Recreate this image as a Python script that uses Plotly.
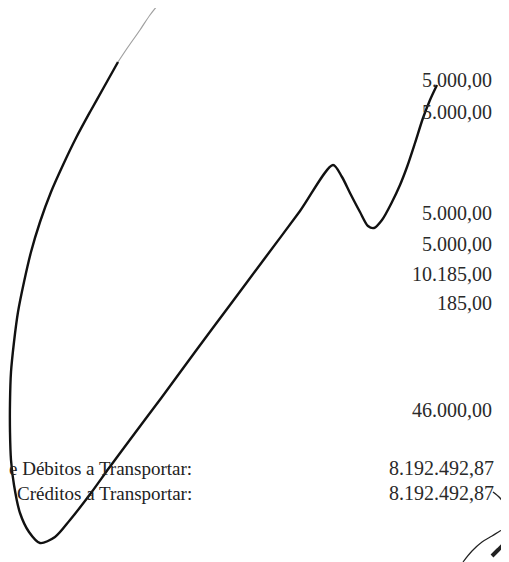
import plotly.graph_objects as go

# Values column (right aligned) and their vertical positions on the page
amounts = ["5.000,00", "5.000,00", "5.000,00", "5.000,00", "10.185,00", "185,00", "46.000,00"]
amount_rows = [80, 112, 213, 244, 274, 303, 410]

# Totals lines
total_labels = ["e Débitos a Transportar:", "Créditos a Transportar:"]
total_values = ["8.192.492,87", "8.192.492,87"]
total_rows = [468, 493]

# Signature stroke (page pixel coordinates)
sig_faint_x = [162, 150, 140, 128, 118]
sig_faint_y = [0, 15, 30, 47, 62]
sig_x = [118, 104, 90, 76, 63, 51, 40, 31, 24, 18, 14, 11, 10, 10, 11, 14, 20, 29, 40,
         55, 70, 91, 109, 135, 162, 195, 230, 265, 300, 333,
         342, 350, 360, 368, 374, 382, 392, 400, 407, 415, 423, 430, 437]
sig_y = [62, 87, 112, 138, 165, 192, 222, 252, 282, 312, 342, 372, 402, 432, 460, 485, 513, 532, 543,
         537, 520, 493, 468, 433, 397, 352, 305, 258, 211, 165,
         177, 193, 212, 226, 228, 220, 202, 185, 167, 143, 118, 100, 85]

# Small mark at bottom right
mark_x = [493, 500, 505, 508, 509]
mark_y = [492, 498, 505, 514, 522]
mark2_x = [502, 503, 504]
mark2_y = [507, 516, 526]
mark3_x = [463, 472, 482, 492, 500, 509]
mark3_y = [562, 551, 542, 536, 531, 526]
mark4_x = [492, 498, 503, 509]
mark4_y = [556, 550, 545, 538]

fig = go.Figure()

fig.add_trace(go.Scatter(x=sig_faint_x, y=sig_faint_y, mode="lines",
                         line=dict(color="#a0a0a0", width=1.2, shape="spline"),
                         hoverinfo="skip", showlegend=False))
fig.add_trace(go.Scatter(x=sig_x, y=sig_y, mode="lines",
                         line=dict(color="#111111", width=2.4, shape="spline", smoothing=0.8),
                         hoverinfo="skip", showlegend=False))
for mx, my, w in [(mark_x, mark_y, 1.4), (mark2_x, mark2_y, 1.2),
                  (mark3_x, mark3_y, 1.2), (mark4_x, mark4_y, 4)]:
    fig.add_trace(go.Scatter(x=mx, y=my, mode="lines",
                             line=dict(color="#222222", width=w, shape="spline"),
                             hoverinfo="skip", showlegend=False))

label_font = dict(family="Liberation Serif, Times New Roman, serif", size=19, color="#222222")
num_font = dict(family="Liberation Serif, Times New Roman, serif", size=20, color="#2a2a2a")

for txt, yy in zip(amounts, amount_rows):
    fig.add_annotation(x=494, y=yy, text=txt, showarrow=False, xanchor="right",
                       yanchor="middle", font=num_font)

for lab, val, yy in zip(total_labels, total_values, total_rows):
    fig.add_annotation(x=194, y=yy, text=lab, showarrow=False, xanchor="right",
                       yanchor="middle", font=label_font)
    fig.add_annotation(x=496, y=yy, text=val, showarrow=False, xanchor="right",
                       yanchor="middle", font=num_font)

# page body has an 8px margin, so the figure covers page pixels 8..509 / 8..562
fig.update_layout(
    width=501, height=554,
    margin=dict(l=0, r=0, t=0, b=0),
    paper_bgcolor="white", plot_bgcolor="white",
    xaxis=dict(range=[8, 509], visible=False, fixedrange=True),
    yaxis=dict(range=[562, 8], visible=False, fixedrange=True),
    showlegend=False,
)

fig.write_html("out.html")
